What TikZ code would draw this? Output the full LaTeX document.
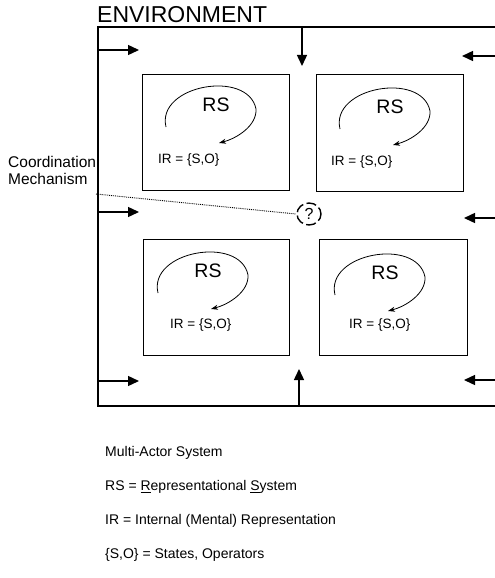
\documentclass[tikz,border=0pt]{standalone}
\usepackage{fontspec}
\setmainfont{Liberation Sans}
\usetikzlibrary{arrows.meta}
\begin{document}
\begin{tikzpicture}[x=1pt,y=-1pt,
  frame/.style={line width=1.3pt},
  agentbox/.style={draw,line width=1.4pt,minimum width=147pt,minimum height=116pt,anchor=north west,inner sep=0pt},
  flow/.style={line width=1.4pt,-{Triangle[length=11pt,width=10pt]}},
  loop/.style={line width=0.8pt,-{Stealth[length=7pt,width=5pt]}},
  rslabel/.style={font=\fontsize{19.5}{20}\selectfont,inner sep=0pt},
  irlabel/.style={font=\fontsize{13.5}{14}\selectfont,inner sep=0pt,anchor=west},
  note/.style={font=\fontsize{14}{14}\selectfont,inner sep=0pt,anchor=west}]
\useasboundingbox (0,0) rectangle (495,578);

% environment frame (open at the right)
\coordinate (ftr) at (495,27);
\coordinate (ftl) at (98,27);
\coordinate (fbl) at (98,406);
\coordinate (fbr) at (495,406);
\draw[frame] (ftr) -- (ftl) -- (fbl) -- (fbr);
\node[anchor=south west,inner sep=0pt,font=\fontsize{23}{23}\selectfont] (env) at (97,23) {ENVIRONMENT};

% the four actors
\node[agentbox] (tl) at (142,74) {};
\node[agentbox,minimum height=117pt] (tr) at (316,74) {};
\node[agentbox,minimum width=146pt] (bl) at (143,239) {};
\node[agentbox,minimum width=148pt] (br) at (319,239) {};

\node[rslabel] (rs1) at (216,105) {RS};
\node[rslabel] (rs2) at (390,107) {RS};
\node[rslabel] (rs3) at (208,271) {RS};
\node[rslabel] (rs4) at (385,273) {RS};

\node[irlabel] (ir1) at (158,160) {IR = \{S,O\}};
\node[irlabel] (ir2) at (331,162) {IR = \{S,O\}};
\node[irlabel] (ir3) at (170,325) {IR = \{S,O\}};
\node[irlabel] (ir4) at (349,325) {IR = \{S,O\}};

% representational loops around each RS
\foreach \r in {rs1,rs2,rs3,rs4}{
  \draw[loop] ([shift={(-50,22)}]\r.center)
    .. controls ([shift={(-60,-20)}]\r.center) and ([shift={(32,-36)}]\r.center) .. ([shift={(40,4)}]\r.center)
    .. controls ([shift={(41,20)}]\r.center) and ([shift={(22,33)}]\r.center) .. ([shift={(3,38)}]\r.center);
}

% environment influences
\coordinate (a1s) at (98,50);   \coordinate (a1e) at (139,50);
\coordinate (a2s) at (302,27);  \coordinate (a2e) at (302,66);
\coordinate (a3s) at (495,56);  \coordinate (a3e) at (462,56);
\coordinate (a4s) at (98,212);  \coordinate (a4e) at (139,212);
\coordinate (a5s) at (495,218); \coordinate (a5e) at (464,218);
\coordinate (a6s) at (98,381);  \coordinate (a6e) at (139,381);
\coordinate (a7s) at (299,406); \coordinate (a7e) at (299,369);
\coordinate (a8s) at (495,380); \coordinate (a8e) at (464,380);
\foreach \a in {a1,a2,a3,a4,a5,a6,a7,a8}{
  \draw[flow] (\a s) -- (\a e);
}

% coordination mechanism
\node[inner sep=0pt,font=\fontsize{16}{16}\selectfont] (cq) at (309,214) {?};
\draw[line width=1.4pt,dash pattern=on 10pt off 3.5pt,dash phase=3pt] (cq.center) circle[x radius=12pt,y radius=11pt];
\node[anchor=north west,inner sep=0pt,align=left,font=\fontsize{15.5}{17}\selectfont] (cm) at (8,156) {Coordination\\Mechanism};
\coordinate (cmend) at (96,194);
\draw[line width=0.9pt,densely dotted] (cmend) -- ([xshift=-13pt]cq.center);

% legend
\node[note] (l1) at (105,453) {Multi-Actor System};
\node[note] (l2) at (105,487) {RS = \underline{R}epresentational \underline{S}ystem};
\node[note] (l3) at (105,521) {IR = Internal (Mental) Representation};
\node[note] (l4) at (105,555) {\{S,O\} = States, Operators};
\end{tikzpicture}
\end{document}
